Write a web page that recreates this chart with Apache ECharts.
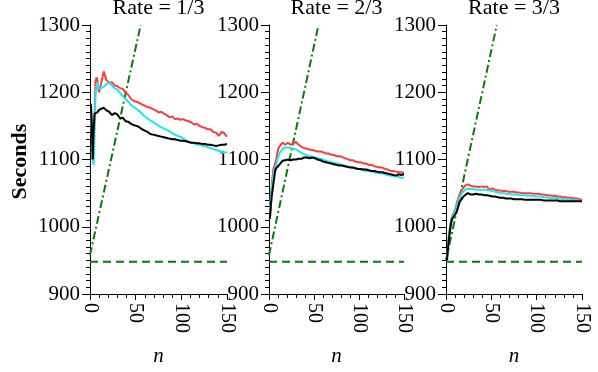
<!DOCTYPE html>
<html>
<head>
<meta charset="utf-8">
<script src="https://cdn.jsdelivr.net/npm/echarts@6/dist/echarts.min.js"></script>
<style>
  html, body { margin: 0; padding: 0; background: #fff; }
  #main { width: 598px; height: 372px; }
</style>
</head>
<body>
<div id="main"></div>
<script>
var nValues = [1, 2, 3, 4, 5, 6, 7, 8, 9, 10, 11, 12, 15, 18, 21, 24, 27, 30, 33, 36, 39, 42, 45, 48, 51, 54, 57, 60,
  63, 66, 69, 72, 75, 78, 81, 84, 87, 90, 93, 96, 99, 102, 105, 108, 111, 114, 117, 120, 123, 126, 129, 132, 135, 138,
  141, 144, 147, 150];

var panelTitles = ['Rate = 1/3', 'Rate = 2/3', 'Rate = 3/3'];

// rate 1/3
var red1 = [1180, 1140, 1100, 1098, 1160, 1216, 1222, 1219, 1206, 1200, 1199, 1212, 1231, 1218, 1214, 1215, 1210, 1209,
  1206, 1205, 1199, 1196, 1190, 1187, 1186, 1184, 1182, 1180, 1178, 1177, 1175, 1173, 1170, 1171, 1168, 1166, 1163,
  1164, 1160, 1161, 1159, 1160, 1158, 1157, 1155, 1152, 1153, 1150, 1148, 1147, 1145, 1145, 1141, 1140, 1135, 1141,
  1139, 1134];
var cyan1 = [1180, 1140, 1100, 1092, 1140, 1195, 1210, 1215, 1208, 1205, 1204, 1206, 1208, 1212, 1214, 1210, 1206, 1204,
  1199, 1194, 1190, 1186, 1181, 1178, 1175, 1172, 1168, 1164, 1161, 1158, 1156, 1153, 1150, 1148, 1146, 1144, 1142,
  1139, 1137, 1135, 1134, 1131, 1129, 1126, 1125, 1124, 1122, 1122, 1120, 1120, 1118, 1117, 1116, 1114, 1113, 1112,
  1110, 1111];
var black1 = [1183, 1150, 1100, 1145, 1168, 1170, 1167, 1170, 1172, 1174, 1173, 1176, 1177, 1173, 1171, 1166, 1169, 1167,
  1161, 1162, 1157, 1156, 1153, 1151, 1150, 1148, 1145, 1143, 1141, 1138, 1137, 1136, 1135, 1134, 1133, 1132, 1131,
  1130, 1130, 1129, 1128, 1128, 1127, 1126, 1125, 1125, 1124, 1124, 1123, 1123, 1122, 1122, 1121, 1120, 1121, 1122,
  1122, 1123];

// rate 2/3
var red2 = [1012, 1040, 1060, 1075, 1087, 1090, 1092, 1100, 1108, 1114, 1118, 1120, 1125, 1122, 1125, 1122, 1124, 1126,
  1122, 1119, 1117, 1116, 1115, 1114, 1113, 1112, 1112, 1111, 1109, 1109, 1107, 1107, 1105, 1105, 1104, 1102, 1101,
  1099, 1099, 1097, 1096, 1096, 1094, 1094, 1092, 1092, 1090, 1089, 1088, 1088, 1086, 1085, 1083, 1083, 1082, 1081,
  1081, 1080];
var cyan2 = [1020, 1045, 1058, 1068, 1078, 1085, 1088, 1092, 1098, 1103, 1106, 1110, 1116, 1118, 1118, 1117, 1116, 1115,
  1112, 1110, 1108, 1106, 1105, 1104, 1103, 1102, 1101, 1100, 1098, 1097, 1096, 1095, 1094, 1093, 1092, 1091, 1090,
  1089, 1088, 1087, 1086, 1085, 1084, 1083, 1083, 1082, 1081, 1080, 1080, 1079, 1078, 1077, 1076, 1076, 1075, 1074,
  1073, 1073];
var black2 = [1012, 1030, 1045, 1055, 1065, 1075, 1084, 1087, 1088, 1090, 1091, 1093, 1098, 1099, 1100, 1099, 1100, 1100,
  1101, 1101, 1103, 1103, 1102, 1103, 1102, 1100, 1099, 1097, 1096, 1095, 1094, 1093, 1092, 1091, 1091, 1090, 1089,
  1088, 1088, 1087, 1086, 1086, 1085, 1085, 1084, 1083, 1083, 1082, 1081, 1081, 1080, 1079, 1078, 1077, 1076, 1078,
  1077, 1078];

// rate 3/3
var red3 = [950, 968, 985, 995, 1005, 1012, 1016, 1019, 1022, 1025, 1030, 1036, 1048, 1056, 1061, 1063, 1061, 1060,
  1060, 1059, 1060, 1059, 1060, 1055, 1057, 1055, 1054, 1054, 1053, 1053, 1052, 1052, 1052, 1051, 1051, 1050, 1050,
  1050, 1050, 1049, 1049, 1049, 1048, 1048, 1047, 1047, 1046, 1046, 1045, 1045, 1044, 1044, 1043, 1043, 1042, 1042,
  1041, 1040];
var cyan3 = [950, 967, 982, 993, 1003, 1010, 1014, 1017, 1020, 1023, 1027, 1032, 1044, 1051, 1055, 1057, 1056, 1056,
  1055, 1055, 1055, 1055, 1055, 1054, 1053, 1052, 1051, 1050, 1050, 1049, 1049, 1048, 1048, 1048, 1047, 1047, 1047,
  1046, 1046, 1046, 1045, 1045, 1045, 1044, 1044, 1043, 1043, 1043, 1042, 1042, 1041, 1041, 1041, 1040, 1040, 1039,
  1039, 1038];
var black3 = [950, 965, 978, 990, 1000, 1008, 1012, 1014, 1016, 1017, 1020, 1023, 1037, 1043, 1047, 1050, 1048, 1048,
  1049, 1048, 1048, 1047, 1047, 1046, 1045, 1045, 1044, 1043, 1043, 1042, 1042, 1042, 1041, 1041, 1041, 1041, 1040,
  1040, 1040, 1040, 1040, 1040, 1040, 1039, 1039, 1039, 1039, 1039, 1039, 1038, 1038, 1038, 1038, 1038, 1038, 1038,
  1038, 1038];

// green reference lines: rising bound (n, seconds) and flat floor
var riseN = [[0, 55.5], [0, 55], [0, 56]];
var riseY = [[958, 1300], [958, 1300], [950, 1300]];
var floorN = [0, 150];
var floorY = [948, 948];

var reds = [red1, red2, red3];
var cyans = [cyan1, cyan2, cyan3];
var blacks = [black1, black2, black3];

var FONT = '"Liberation Serif", "DejaVu Serif", serif';
var panelLeft = [90, 269, 446];
var panelWidth = [137, 135, 136];

function pairs(xs, ys) {
  return xs.map(function (x, i) { return [x, ys[i]]; });
}
function plain(v) { return String(v); }

var myChart = echarts.init(document.getElementById('main'));

var grids = [], xAxes = [], yAxes = [], series = [], titles = [];
for (var p = 0; p < 3; p++) {
  grids.push({ left: panelLeft[p], top: 25, width: panelWidth[p], height: 273 });
  titles.push({
    text: panelTitles[p], left: panelLeft[p] + panelWidth[p] / 2, top: -3, textAlign: 'center', padding: 0,
    textStyle: { fontFamily: FONT, fontSize: 22, fontWeight: 'normal', color: '#000' }
  });
  xAxes.push({
    type: 'value', gridIndex: p, min: 0, max: 150, interval: 50,
    name: 'n', nameLocation: 'middle', nameGap: 52,
    nameTextStyle: { fontFamily: FONT, fontSize: 21, fontStyle: 'italic', color: '#000' },
    splitLine: { show: false },
    axisLine: { show: true, lineStyle: { color: '#000', width: 1 } },
    axisTick: { show: true, length: 6, lineStyle: { color: '#000', width: 1 } },
    minorTick: { show: true, splitNumber: 5, length: 4, lineStyle: { color: '#000' } },
    axisLabel: { rotate: -90, margin: 9, fontFamily: FONT, fontSize: 20, color: '#000', formatter: plain }
  });
  yAxes.push({
    type: 'value', gridIndex: p, min: 900, max: 1300, interval: 100,
    splitLine: { show: false },
    axisLine: { show: true, lineStyle: { color: '#000', width: 1 } },
    axisTick: { show: true, length: 8, lineStyle: { color: '#000', width: 1 } },
    minorTick: { show: true, splitNumber: 10, length: 4, lineStyle: { color: '#000' } },
    axisLabel: { margin: 10, fontFamily: FONT, fontSize: 21, color: '#000', formatter: plain }
  });
  var common = { type: 'line', xAxisIndex: p, yAxisIndex: p, showSymbol: false, silent: true };
  series.push(Object.assign({}, common, {
    data: pairs(riseN[p], riseY[p]),
    lineStyle: { color: '#0a7a0a', width: 2, type: [8, 3, 2, 3] }
  }));
  series.push(Object.assign({}, common, {
    data: pairs(floorN, floorY),
    lineStyle: { color: '#0a7a0a', width: 2, type: [8, 5] }
  }));
  series.push(Object.assign({}, common, {
    data: pairs(nValues, reds[p]), lineStyle: { color: '#ff3b3b', width: 2 }
  }));
  series.push(Object.assign({}, common, {
    data: pairs(nValues, cyans[p]), lineStyle: { color: '#1ee6ee', width: 2 }
  }));
  series.push(Object.assign({}, common, {
    data: pairs(nValues, blacks[p]), lineStyle: { color: '#000', width: 2 }
  }));
}

var option = {
  animation: false,
  title: titles,
  grid: grids,
  xAxis: xAxes,
  yAxis: yAxes,
  series: series,
  graphic: [{
    type: 'text', x: 20, y: 161.5, rotation: Math.PI / 2,
    style: { text: 'Seconds', fontFamily: FONT, fontSize: 22, fontWeight: 'bold', fill: '#000',
      align: 'center', verticalAlign: 'middle' }
  }]
};
myChart.setOption(option);
</script>
</body>
</html>
